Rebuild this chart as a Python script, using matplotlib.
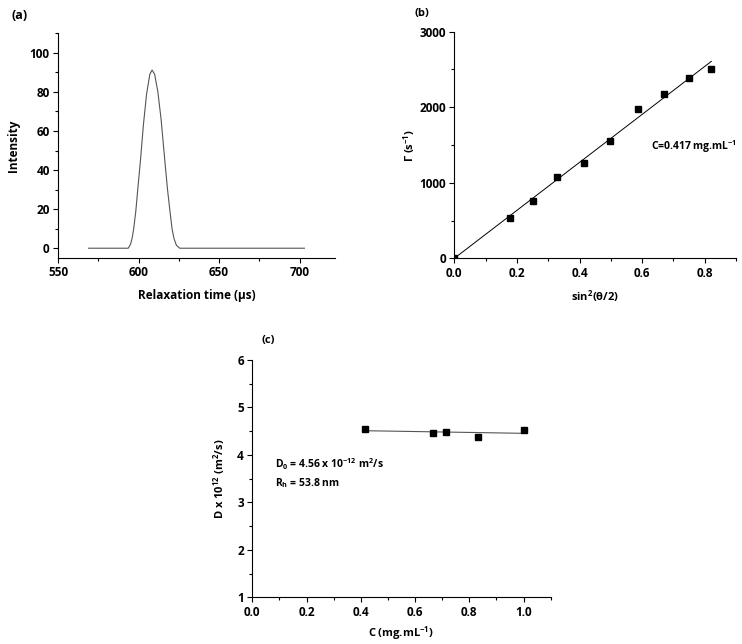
import matplotlib
matplotlib.use('Agg')
import matplotlib.pyplot as plt
from matplotlib.ticker import MultipleLocator

# (a) relaxation time distribution
tau = [569, 593.6, 595, 596, 597, 598.3, 599.5, 601.2, 603, 605, 607, 608.4,
       610, 612, 614, 616.3, 618, 619.5, 620.8, 622, 623.5, 625.6, 703]
intensity = [0, 0, 2, 5, 10, 19, 30, 45, 63, 79, 89, 91.2,
             89, 80, 66, 45, 30, 19, 10, 5, 1.5, 0, 0]

# (b) decay rate vs sin^2(theta/2)
q2 = [0.0, 0.179, 0.25, 0.329, 0.413, 0.498, 0.586, 0.671, 0.75, 0.821]
gamma = [0, 530, 756, 1078, 1263, 1555, 1975, 2178, 2382, 2506]
fit_b_x = [0.0, 0.821]
fit_b_y = [0, 2607]

# (c) diffusion coefficient vs concentration
conc = [0.417, 0.667, 0.714, 0.833, 1.0]
diff = [4.54, 4.46, 4.48, 4.37, 4.52]
fit_c_x = [0.417, 1.0]
fit_c_y = [4.51, 4.455]

fam = 'Open Sans'
plt.rcParams['font.family'] = [fam, 'DejaVu Sans']
plt.rcParams['font.weight'] = 'bold'
plt.rcParams['axes.labelweight'] = 'bold'
plt.rcParams['mathtext.fontset'] = 'custom'
plt.rcParams['mathtext.rm'] = fam + ':bold'
plt.rcParams['mathtext.it'] = fam + ':bold'
plt.rcParams['mathtext.bf'] = fam + ':bold'
plt.rcParams['mathtext.fallback'] = 'stix'

fig = plt.figure(figsize=(7.42, 6.44), dpi=100)


def style(ax):
    for s in ['top', 'right']:
        ax.spines[s].set_visible(False)
    ax.tick_params(which='major', direction='out', length=3.5, width=0.8, labelsize=8.5, pad=2.5)
    ax.tick_params(which='minor', direction='out', length=2, width=0.8)


# subplot (a)
ax1 = fig.add_axes([0.0782, 0.5994, 0.3733, 0.3489])
ax1.plot(tau, intensity, color='#555555', linewidth=0.8)
ax1.set_xlim(550, 722)
ax1.set_ylim(-5, 110)
ax1.xaxis.set_major_locator(MultipleLocator(50))
ax1.xaxis.set_minor_locator(MultipleLocator(25))
ax1.yaxis.set_major_locator(MultipleLocator(20))
ax1.yaxis.set_minor_locator(MultipleLocator(10))
ax1.set_xlabel('Relaxation time (µs)', fontsize=8.5, labelpad=7)
ax1.set_ylabel('Intensity', fontsize=8.5, labelpad=7)
style(ax1)
fig.text(0.016, 0.976, '(a)', fontsize=9, fontweight='bold', va='center')

# subplot (b)
ax2 = fig.add_axes([0.6123, 0.5989, 0.3797, 0.3519])
ax2.plot(fit_b_x, fit_b_y, color='black', linewidth=0.7)
ax2.plot(q2, gamma, 's', color='black', markersize=4)
ax2.set_xlim(0, 0.9)
ax2.set_ylim(0, 3000)
ax2.xaxis.set_major_locator(MultipleLocator(0.2))
ax2.xaxis.set_minor_locator(MultipleLocator(0.1))
ax2.yaxis.set_major_locator(MultipleLocator(1000))
ax2.yaxis.set_minor_locator(MultipleLocator(500))
ax2.xaxis.set_major_formatter(lambda v, p: f'{v:.1f}')
ax2.set_xlabel('sin$^{2}$(θ/2)', fontsize=8, labelpad=6)
ax2.set_ylabel(r'$\Gamma$ (s$^{-1}$)', fontsize=8, labelpad=2)
ax2.text(0.628, 1480, 'C=0.417 mg.mL$^{-1}$', fontsize=7.5, va='center')
style(ax2)
fig.text(0.558, 0.979, '(b)', fontsize=8, fontweight='bold', va='center')

# subplot (c)
ax3 = fig.add_axes([0.340, 0.0725, 0.4022, 0.3685])
ax3.plot(fit_c_x, fit_c_y, color='#555555', linewidth=0.8)
ax3.plot(conc, diff, 's', color='black', markersize=4)
ax3.set_xlim(0, 1.1)
ax3.set_ylim(1, 6)
ax3.xaxis.set_major_locator(MultipleLocator(0.2))
ax3.xaxis.set_minor_locator(MultipleLocator(0.1))
ax3.yaxis.set_major_locator(MultipleLocator(1))
ax3.yaxis.set_minor_locator(MultipleLocator(0.5))
ax3.xaxis.set_major_formatter(lambda v, p: f'{v:.1f}')
ax3.set_xlabel('C (mg.mL$^{-1}$)', fontsize=8, labelpad=4)
ax3.set_ylabel('D x 10$^{12}$ (m$^{2}$/s)', fontsize=8, labelpad=7)
ax3.text(0.084, 3.80, 'D$_{0}$ = 4.56 x 10$^{-12}$ m$^{2}$/s', fontsize=7.5, va='center')
ax3.text(0.084, 3.40, 'R$_{h}$ = 53.8 nm', fontsize=7.5, va='center')
style(ax3)
fig.text(0.352, 0.472, '(c)', fontsize=8, fontweight='bold', va='center')

fig.savefig('out.png', dpi=100)
